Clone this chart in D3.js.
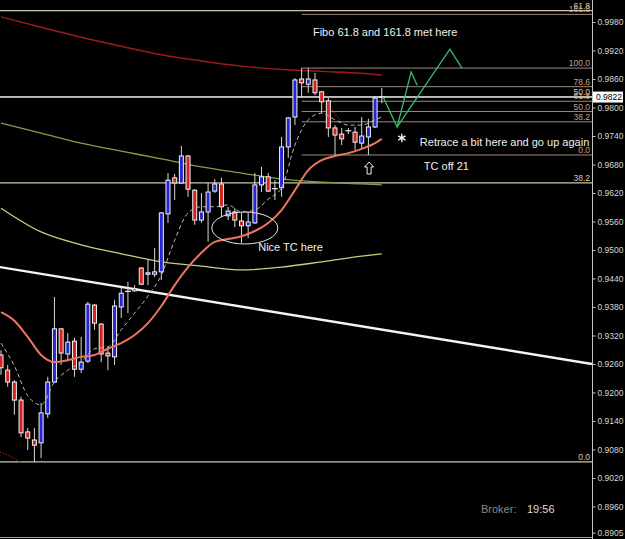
<!DOCTYPE html>
<html lang="en">
  <head>
    <meta charset="UTF-8" />
    <title>Candles with fibo levels</title>
    <script src="https://d3js.org/d3.v7.min.js"></script>
    <style>
      html, body { margin: 0; padding: 0; background: #000; }
      svg { display: block; font-family: "Liberation Sans", Arial, sans-serif; }
      .axis path, .axis line { stroke: #c4c4c4; }
      .axis text { fill: #d6d6d6; font-size: 8.5px; }
      .note { fill: #f0f0f0; font-size: 11px; }
      .fib-label { font-size: 8.5px; text-anchor: end; }
    </style>
  </head>
  <body>
    <svg id="chart" width="625" height="539"></svg>
    <script>
      // ---- data (bar 0 = left edge) ----
      const opens = [0.9279, 0.9247, 0.9222, 0.9184, 0.9117, 0.9100, 0.9094, 0.9155, 0.9222, 0.9334,
        0.9281, 0.9308, 0.9249, 0.9266, 0.9384, 0.9344, 0.9283, 0.9275, 0.9380, 0.9412,
        0.9414, 0.9462, 0.9449, 0.9449, 0.9454, 0.9576, 0.9652, 0.9641, 0.9698, 0.9626,
        0.9563, 0.9580, 0.9624, 0.9639, 0.9572, 0.9580, 0.9561, 0.9551, 0.9557, 0.9637,
        0.9654, 0.9631, 0.9631, 0.9717, 0.9780, 0.9860, 0.9849, 0.9858, 0.9833, 0.9814,
        0.9757, 0.9744, 0.9751, 0.9748, 0.9725, 0.9738, 0.9759, 0.9820];
      const highs = [0.9289, 0.9258, 0.9226, 0.9191, 0.9125, 0.9125, 0.9178, 0.9233, 0.9401, 0.9336,
        0.9325, 0.9315, 0.9317, 0.9391, 0.9386, 0.9346, 0.9296, 0.9395, 0.9422, 0.9433,
        0.9426, 0.9464, 0.9479, 0.9504, 0.9580, 0.9662, 0.9660, 0.9719, 0.9700, 0.9628,
        0.9620, 0.9641, 0.9649, 0.9652, 0.9591, 0.9588, 0.9578, 0.9580, 0.9662, 0.9675,
        0.9662, 0.9647, 0.9738, 0.9780, 0.9862, 0.9883, 0.9883, 0.9873, 0.9835, 0.9820,
        0.9763, 0.9757, 0.9757, 0.9759, 0.9780, 0.9776, 0.9824, 0.9841];
      const lows = [0.9237, 0.9212, 0.9153, 0.9106, 0.9079, 0.9054, 0.9062, 0.9146, 0.9220, 0.9258,
        0.9268, 0.9233, 0.9241, 0.9262, 0.9332, 0.9264, 0.9247, 0.9258, 0.9357, 0.9367,
        0.9412, 0.9426, 0.9426, 0.9443, 0.9437, 0.9557, 0.9605, 0.9639, 0.9612, 0.9553,
        0.9557, 0.9517, 0.9620, 0.9569, 0.9563, 0.9548, 0.9515, 0.9525, 0.9555, 0.9622,
        0.9622, 0.9605, 0.9612, 0.9694, 0.9763, 0.9822, 0.9831, 0.9826, 0.9788, 0.9738,
        0.9700, 0.9721, 0.9744, 0.9711, 0.9713, 0.9700, 0.9757, 0.9809];
      const closes = [0.9252, 0.9222, 0.9184, 0.9115, 0.9104, 0.9089, 0.9157, 0.9222, 0.9334, 0.9283,
        0.9306, 0.9249, 0.9264, 0.9386, 0.9346, 0.9281, 0.9277, 0.9382, 0.9409, 0.9413,
        0.9418, 0.9428, 0.9452, 0.9454, 0.9578, 0.9647, 0.9641, 0.9698, 0.9628, 0.9563,
        0.9580, 0.9622, 0.9639, 0.9591, 0.9582, 0.9563, 0.9551, 0.9559, 0.9637, 0.9654,
        0.9624, 0.9629, 0.9717, 0.9778, 0.9858, 0.9852, 0.9860, 0.9831, 0.9812, 0.9757,
        0.9742, 0.9734, 0.9751, 0.9727, 0.9740, 0.9759, 0.9820, 0.9822];

      // moving averages as [bar, price]
      const maSlow = [[0, 0.9991], [6, 0.9969], [12, 0.9948], [18, 0.9929], [24, 0.9911], [30, 0.9898],
        [36, 0.9887], [42, 0.9880], [48, 0.9876], [54, 0.9872], [57, 0.9868]];
      const maGreen = [[0, 0.9767], [6, 0.9746], [12, 0.9725], [18, 0.9708], [24, 0.9692], [30, 0.9675],
        [36, 0.9662], [42, 0.9649], [48, 0.9643], [54, 0.9639], [57, 0.9637]];
      const maYellow = [[0, 0.9588], [6, 0.9538], [12, 0.9511], [18, 0.9492], [24, 0.9475], [30, 0.9466],
        [36, 0.9458], [42, 0.9464], [48, 0.9475], [54, 0.9487], [57, 0.9492]];
      const maFast = [[0, 0.9369], [2, 0.9351], [4, 0.9317], [6, 0.9279], [8, 0.9264], [10, 0.9268],
        [12, 0.9275], [14, 0.9279], [16, 0.9292], [18, 0.9304], [20, 0.9321], [22, 0.9346],
        [24, 0.9382], [26, 0.9426], [28, 0.9464], [30, 0.9494], [32, 0.9517], [34, 0.9523],
        [36, 0.9529], [38, 0.9540], [40, 0.9557], [42, 0.9584], [44, 0.9626], [46, 0.9668],
        [48, 0.9689], [50, 0.9698], [52, 0.9704], [54, 0.9713], [56, 0.9725], [57, 0.9734]];
      const maDash = [[0, 0.9304], [2, 0.9256], [4, 0.9193], [6, 0.9174], [8, 0.9222], [10, 0.9247],
        [12, 0.9264], [14, 0.9292], [16, 0.9296], [18, 0.9332], [20, 0.9367], [22, 0.9403],
        [24, 0.9447], [26, 0.9521], [28, 0.9578], [30, 0.9591], [32, 0.9591], [34, 0.9595],
        [36, 0.9580], [38, 0.9584], [40, 0.9607], [42, 0.9631], [44, 0.9721], [46, 0.9774],
        [48, 0.9788], [50, 0.9774], [52, 0.9763], [54, 0.9763], [56, 0.9774], [57, 0.9780]];
      const sarBits = [
        [[-0.15, 0.9075], [1, 0.9068], [2.9, 0.9054]],
        [[49.3, 0.9801], [50.2, 0.9783], [51.2, 0.9765]]
      ];

      // fibonacci tools
      const fibLevels = [0, 38.2, 50, 61.8, 78.6, 100, 161.8];
      const fibLevelText = ["0.0", "38.2", "50.0", "61.8", "78.6", "100.0", "161.8"];
      const bigFib = { start: -10, low: 0.9054, high: 1.0591 };
      const smallFib = { start: 45, low: 0.97, high: 0.9883 };

      const bidPrice = 0.9822;
      const tickValues = [0.998, 0.992, 0.986, 0.98, 0.974, 0.968, 0.962, 0.956, 0.95, 0.944,
        0.938, 0.932, 0.926, 0.92, 0.914, 0.908, 0.902, 0.896, 0.8905];

      // trend line and projected path
      const trendLine = [[-0.15, 0.9464], [88.47, 0.9260]];
      const projA = [[57.2, 0.9822], [59.3, 0.9759], [61.4, 0.9875], [62.3, 0.9847]];
      const projB = [[59.3, 0.9759], [67.2, 0.9923], [69.0, 0.9883]];

      const notes = [
        { text: "Fibo 61.8 and 161.8 met here", bar: 46.7, price: 0.99589 },
        { text: "Retrace a bit here and go up again", bar: 62.7, price: 0.97274 },
        { text: "TC off 21", bar: 63.3, price: 0.96768 },
        { text: "Nice TC here", bar: 38.5, price: 0.95063 }
      ];
      const ellipseNote = { bar: 36.5, price: 0.95463, rBars: 4.94, rPrice: 0.00337 };
      const starNote = { bar: 60.0, price: 0.97358 };
      const arrowNote = { bar: 55.1, price: 0.96726 };

      // ---- setup ----
      const svg = d3.select("#chart");
      const W = 625, H = 539, plotRight = 592;

      svg.append("rect").attr("width", W).attr("height", H).attr("fill", "#000");

      const x = d3.scaleLinear().domain([-0.15, 88.47]).range([0, plotRight]);
      const y = d3.scaleLinear().domain([0.8905, 0.998]).range([532.6, 22]);

      svg.append("defs").append("clipPath").attr("id", "plot-clip")
        .append("rect").attr("x", 0).attr("y", 0).attr("width", plotRight).attr("height", H);

      const g = svg.append("g").attr("clip-path", "url(#plot-clip)");

      const line = d3.line().x(d => x(d[0])).y(d => y(d[1]));
      const smooth = d3.line().x(d => x(d[0])).y(d => y(d[1])).curve(d3.curveMonotoneX);

      // fib lines
      function drawFib(f, lineColor, labelColor, width) {
        fibLevels.forEach((lv, i) => {
          const p = f.low + (f.high - f.low) * lv / 100;
          const yy = y(p);
          if (yy < 0 || yy > H) return;
          g.append("line")
            .attr("x1", Math.max(0, x(f.start))).attr("x2", plotRight)
            .attr("y1", yy).attr("y2", yy)
            .attr("stroke", lineColor).attr("stroke-width", width);
          g.append("text").attr("class", "fib-label")
            .attr("x", plotRight - 2).attr("y", yy - 2)
            .attr("fill", labelColor)
            .text(fibLevelText[i]);
        });
      }
      drawFib(bigFib, "#cdc5ae", "#d8ccaa", 1.3);
      drawFib(smallFib, "#9e8a7a", "#c0a282", 1);

      // bid line
      g.append("line")
        .attr("x1", 0).attr("x2", plotRight)
        .attr("y1", y(bidPrice)).attr("y2", y(bidPrice))
        .attr("stroke", "#c8c8c8").attr("stroke-width", 1.6);

      // bottom border
      g.append("line")
        .attr("x1", 0).attr("x2", plotRight)
        .attr("y1", 537.5).attr("y2", 537.5)
        .attr("stroke", "#a0a0a0");

      // moving averages
      g.append("path").attr("d", smooth(maSlow)).attr("fill", "none")
        .attr("stroke", "#9c1a1a").attr("stroke-width", 1.4);
      g.append("path").attr("d", smooth(maGreen)).attr("fill", "none")
        .attr("stroke", "#7ea246").attr("stroke-width", 1.3);
      g.append("path").attr("d", smooth(maYellow)).attr("fill", "none")
        .attr("stroke", "#cccc80").attr("stroke-width", 1.3);

      // trend line
      g.append("path").attr("d", line(trendLine)).attr("fill", "none")
        .attr("stroke", "#f4f4f4").attr("stroke-width", 2.4);

      // red dotted bits
      sarBits.forEach(s => {
        g.append("path").attr("d", line(s)).attr("fill", "none")
          .attr("stroke", "#8a1c1c").attr("stroke-width", 1.2)
          .attr("stroke-dasharray", "1.5,1.5");
      });

      // candles
      const bars = opens.map((o, i) => ({ i, o, h: highs[i], l: lows[i], c: closes[i] }));
      const cg = g.append("g");
      const bw = 4;

      cg.selectAll(".wick").data(bars).join("line")
        .attr("class", "wick")
        .attr("x1", d => x(d.i)).attr("x2", d => x(d.i))
        .attr("y1", d => y(d.h)).attr("y2", d => y(d.l))
        .attr("stroke", "#d8d8d8").attr("stroke-width", 1);

      const bodies = bars.filter(d => Math.abs(d.c - d.o) >= 0.0003);
      const dojis = bars.filter(d => Math.abs(d.c - d.o) < 0.0003);

      cg.selectAll(".body").data(bodies).join("rect")
        .attr("class", "body")
        .attr("x", d => x(d.i) - bw / 2)
        .attr("y", d => y(Math.max(d.o, d.c)))
        .attr("width", bw)
        .attr("height", d => Math.max(1, y(Math.min(d.o, d.c)) - y(Math.max(d.o, d.c))))
        .attr("fill", d => (d.c > d.o ? "#2626d2" : "#d42222"))
        .attr("stroke", "#f2f2f2").attr("stroke-width", 1);

      cg.selectAll(".doji").data(dojis).join("line")
        .attr("class", "doji")
        .attr("x1", d => x(d.i) - 3).attr("x2", d => x(d.i) + 3)
        .attr("y1", d => y(d.c)).attr("y2", d => y(d.c))
        .attr("stroke", "#f2f2f2").attr("stroke-width", 1.2);

      // fast MA and dashed MA drawn over candles
      g.append("path").attr("d", smooth(maFast)).attr("fill", "none")
        .attr("stroke", "#ec7562").attr("stroke-width", 2);
      g.append("path").attr("d", smooth(maDash)).attr("fill", "none")
        .attr("stroke", "#b8b8b8").attr("stroke-width", 1)
        .attr("stroke-dasharray", "4,3");

      // projected path
      [projA, projB].forEach(p => {
        g.append("path").attr("d", line(p)).attr("fill", "none")
          .attr("stroke", "#3cba6e").attr("stroke-width", 1.3);
      });

      // annotations
      g.selectAll(".note").data(notes).join("text")
        .attr("class", "note")
        .attr("x", d => x(d.bar))
        .attr("y", d => y(d.price))
        .attr("dominant-baseline", "central")
        .text(d => d.text);

      g.append("ellipse")
        .attr("cx", x(ellipseNote.bar)).attr("cy", y(ellipseNote.price))
        .attr("rx", x(ellipseNote.rBars) - x(0))
        .attr("ry", y(0.95) - y(0.95 + ellipseNote.rPrice))
        .attr("fill", "none").attr("stroke", "#e6e6e6").attr("stroke-width", 1);

      g.append("path")
        .attr("d", d3.symbol(d3.symbolAsterisk, 50)())
        .attr("transform", `translate(${x(starNote.bar)},${y(starNote.price)})`)
        .attr("fill", "none").attr("stroke", "#f4f4f4").attr("stroke-width", 1.4);

      g.append("path")
        .attr("d", "M0,-6L4.5,-1L2,-1L2,6L-2,6L-2,-1L-4.5,-1Z")
        .attr("transform", `translate(${x(arrowNote.bar)},${y(arrowNote.price)})`)
        .attr("fill", "none").attr("stroke", "#f0f0f0").attr("stroke-width", 1);

      // broker clock
      svg.append("text").attr("x", 481).attr("y", 509)
        .attr("dominant-baseline", "central")
        .attr("fill", "#8a8a8a").attr("font-size", 11).text("Broker:");
      svg.append("text").attr("x", 527).attr("y", 509)
        .attr("dominant-baseline", "central")
        .attr("fill", "#dcdcdc").attr("font-size", 11).text("19:56");

      // price axis
      svg.append("g")
        .attr("class", "axis")
        .attr("transform", `translate(${plotRight + 0.5},0)`)
        .call(d3.axisRight(y).tickValues(tickValues)
          .tickSize(3).tickPadding(2).tickFormat(d3.format(".4f")))
        .call(a => a.select(".domain").attr("d", `M0,0V${H}`));

      // bid price box
      const bidBox = svg.append("g").attr("transform", `translate(${plotRight + 1},${y(bidPrice)})`);
      bidBox.append("rect").attr("x", 0).attr("y", -5.5).attr("width", 30).attr("height", 11)
        .attr("fill", "#ffffff");
      bidBox.append("text").attr("x", 3).attr("y", 0)
        .attr("dominant-baseline", "central")
        .attr("fill", "#000").attr("font-size", 8.5)
        .text(d3.format(".4f")(bidPrice));
    </script>
  </body>
</html>
